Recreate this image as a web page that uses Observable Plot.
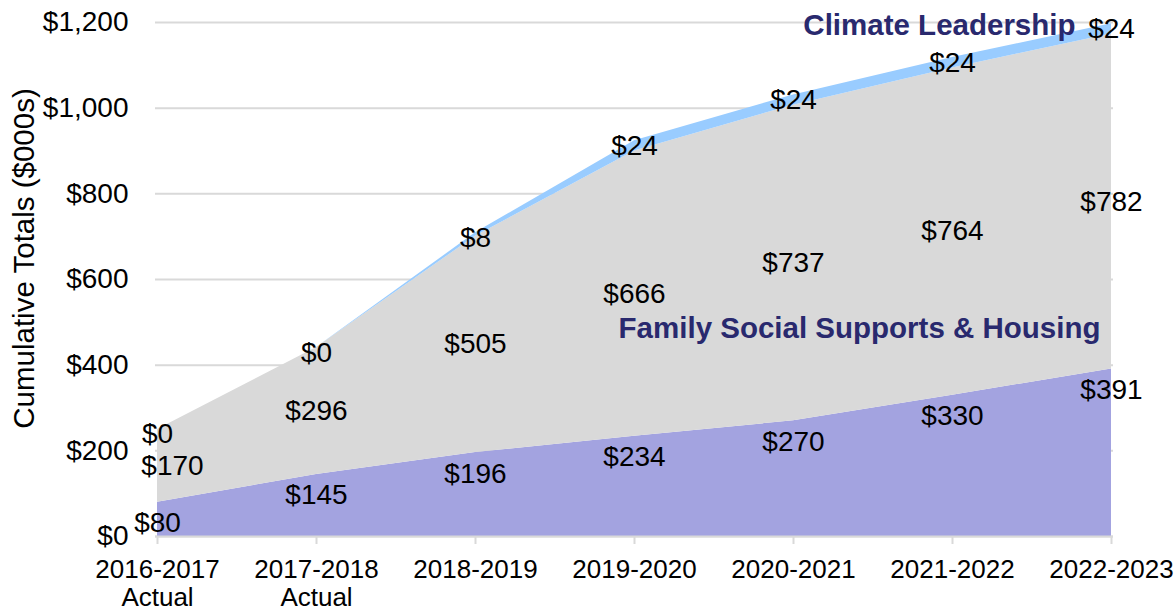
<!DOCTYPE html>
<html>
<head>
<meta charset="utf-8">
<script src="https://cdn.jsdelivr.net/npm/d3@7"></script>
<script src="https://cdn.jsdelivr.net/npm/@observablehq/plot@0.6"></script>
<style>
  html, body { margin: 0; padding: 0; background: #fff; }
  #chart { width: 1176px; height: 612px; }
</style>
</head>
<body>
<div id="chart"></div>
<script>
// ---- data ----
const years = ["2016-2017", "2017-2018", "2018-2019", "2019-2020", "2020-2021", "2021-2022", "2022-2023"];
const yearLabels = ["2016-2017\nActual", "2017-2018\nActual", "2018-2019", "2019-2020", "2020-2021", "2021-2022", "2022-2023"];
const seriesNames = ["Base Programs", "Family Social Supports & Housing", "Climate Leadership"];
const baseValues = [80, 145, 196, 234, 270, 330, 391];
const familyValues = [170, 296, 505, 666, 737, 764, 782];
const climateValues = [0, 0, 8, 24, 24, 24, 24];
const yTicks = [0, 200, 400, 600, 800, 1000, 1200];
const yTitle = "Cumulative Totals ($000s)";

const seriesValues = [baseValues, familyValues, climateValues];
const long = years.flatMap((yr, i) =>
  seriesNames.map((s, j) => ({ year: yr, series: s, value: seriesValues[j][i] }))
);
const money = v => "$" + d3.format(",")(v);

const font = "'Liberation Sans', Arial, sans-serif";
const navy = "#29296e";

const chart = Plot.plot({
  width: 1176,
  height: 612,
  marginLeft: 155,
  marginRight: 63,
  marginTop: 22,
  marginBottom: 76,
  style: { fontFamily: font, background: "#fff", overflow: "visible" },
  x: { type: "point", domain: years, padding: 0 },
  y: { domain: [0, 1200] },
  color: { domain: seriesNames, range: ["#a3a3e0", "#d9d9d9", "#99ccff"] },
  marks: [
    Plot.gridY(yTicks, { stroke: "#d9d9d9", strokeOpacity: 1, strokeWidth: 2 }),
    Plot.areaY(long, { x: "year", y: "value", fill: "series" }),
    Plot.ruleY([0], { stroke: "#d9d9d9", strokeWidth: 2 }),
    Plot.axisY({
      ticks: yTicks, tickFormat: money, tickSize: 0, tickPadding: 27,
      fontSize: 28, fill: "black", label: null
    }),
    Plot.axisX({
      tickSize: 8, tickPadding: 13, stroke: "#d9d9d9", strokeWidth: 2, fill: "black",
      fontSize: 26, lineHeight: 1.1, label: null,
      tickFormat: d => yearLabels[years.indexOf(d)]
    }),
    // axis title
    Plot.text([yTitle], {
      text: d => d, frameAnchor: "left", rotate: -90, dx: -131, dy: -21,
      fontSize: 29.5, fill: "black", textAnchor: "middle", lineAnchor: "middle"
    }),
    // base (purple) labels, just inside the top
    Plot.text(long, Plot.stackY2({
      x: "year", y: "value", z: "series",
      text: d => d.series === seriesNames[0] ? money(d.value) : "",
      dy: 21, fontSize: 28, fill: "black"
    })),
    // family (grey) labels at the middle of the band
    Plot.text(long, Plot.stackY({
      x: "year", y: "value", z: "series",
      text: d => (d.series === seriesNames[1] && d.year !== years[0]) ? money(d.value) : "",
      fontSize: 28, fill: "black"
    })),
    Plot.text(long, Plot.stackY({
      x: "year", y: "value", z: "series",
      text: d => (d.series === seriesNames[1] && d.year === years[0]) ? money(d.value) : "",
      dx: 15, fontSize: 28, fill: "black"
    })),
    // climate (blue) labels at the top edge
    Plot.text(long, Plot.stackY2({
      x: "year", y: "value", z: "series",
      text: d => d.series === seriesNames[2] ? money(d.value) : "",
      dy: 5, fontSize: 28, fill: "black"
    })),
    // series names
    Plot.text([seriesNames[2]], {
      text: d => d, frameAnchor: "top-right", textAnchor: "end", lineAnchor: "middle",
      dx: -38, dy: 3, fontSize: 29.5, fontWeight: "bold", fill: navy
    }),
    Plot.text([seriesNames[1]], {
      text: d => d, frameAnchor: "right", textAnchor: "end", lineAnchor: "middle",
      dx: -13, dy: 49, fontSize: 29.5, fontWeight: "bold", fill: navy
    })
  ]
});
document.getElementById("chart").appendChild(chart);
</script>
</body>
</html>
